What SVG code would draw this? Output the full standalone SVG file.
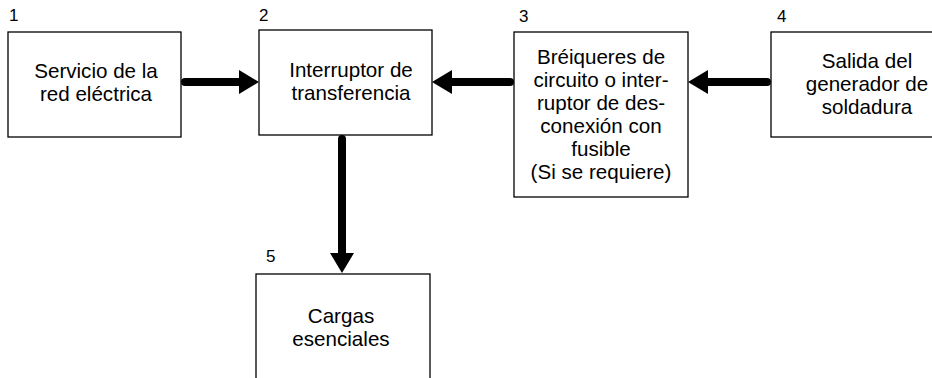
<svg xmlns="http://www.w3.org/2000/svg" width="932" height="378" viewBox="0 0 932 378">
<style>
.box{fill:#fff;stroke:#000;stroke-width:1.3}
.t{font-family:"Liberation Sans",Arial,sans-serif;font-size:20.6px;fill:#000;text-anchor:middle}
.n{font-family:"Liberation Sans",Arial,sans-serif;font-size:17px;fill:#000}
.c{stroke:#000;stroke-width:8;stroke-linecap:round;fill:none}
</style>
<defs>
<marker id="ah" markerUnits="userSpaceOnUse" viewBox="0 0 20 24" refX="0" refY="12" markerWidth="20" markerHeight="24" orient="auto">
<path d="M0,0 L20,12 L0,24 Z" fill="#000"/>
</marker>
</defs>
<g id="connectors">
<line class="c" x1="185" y1="82" x2="239" y2="82" marker-end="url(#ah)"/>
<line class="c" x1="510" y1="82" x2="452" y2="82" marker-end="url(#ah)"/>
<line class="c" x1="767" y1="82" x2="708" y2="82" marker-end="url(#ah)"/>
<line class="c" x1="342" y1="139" x2="342" y2="253" marker-end="url(#ah)"/>
</g>
<g id="node1">
<rect class="box" x="8" y="32" width="173" height="105"/>
<text class="n" x="9" y="21">1</text>
<text class="t" x="96" y="78">Servicio de la</text>
<text class="t" x="96" y="101">red eléctrica</text>
</g>
<g id="node2">
<rect class="box" x="259" y="30" width="173" height="105"/>
<text class="n" x="259" y="21">2</text>
<text class="t" x="351" y="77">Interruptor de</text>
<text class="t" x="351" y="100">transferencia</text>
</g>
<g id="node3">
<rect class="box" x="514" y="32" width="174" height="165"/>
<text class="n" x="519" y="22">3</text>
<text class="t" x="601" y="64">Bréiqueres de</text>
<text class="t" x="601" y="87">circuito o inter-</text>
<text class="t" x="601" y="110">ruptor de des-</text>
<text class="t" x="601" y="133">conexión con</text>
<text class="t" x="601" y="156">fusible</text>
<text class="t" x="601" y="179">(Si se requiere)</text>
</g>
<g id="node4">
<rect class="box" x="771" y="32" width="190" height="105"/>
<text class="n" x="777" y="22">4</text>
<text class="t" x="867" y="68">Salida del</text>
<text class="t" x="867" y="91">generador de</text>
<text class="t" x="867" y="114">soldadura</text>
</g>
<g id="node5">
<rect class="box" x="256" y="274" width="174" height="130"/>
<text class="n" x="266" y="262">5</text>
<text class="t" x="341" y="323">Cargas</text>
<text class="t" x="341" y="346">esenciales</text>
</g>
</svg>
